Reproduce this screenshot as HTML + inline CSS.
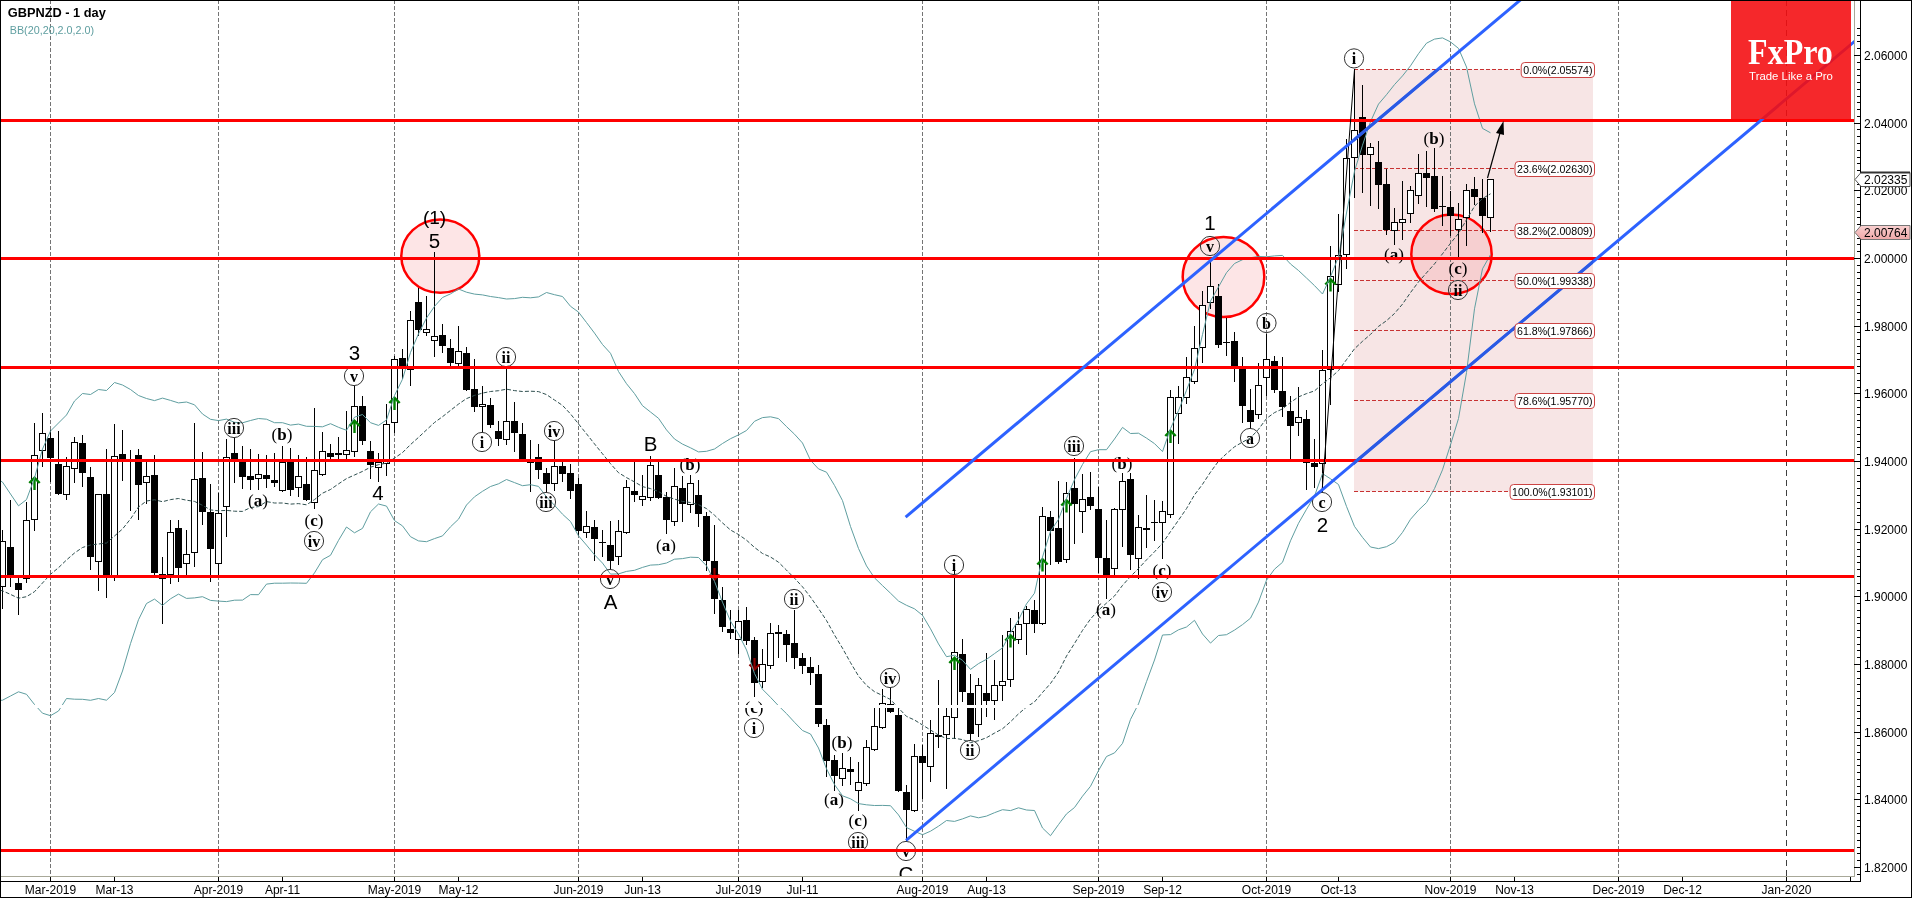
<!DOCTYPE html><html><head><meta charset="utf-8"><title>GBPNZD - 1 day</title><style>html,body{margin:0;padding:0;background:#fff;overflow:hidden}svg{will-change:transform}</style></head><body><svg width="1912" height="898" viewBox="0 0 1912 898" style="display:block">
<defs><clipPath id="plot"><rect x="1" y="1" width="1853" height="875"/></clipPath><clipPath id="box"><rect x="1354" y="0" width="239" height="898"/></clipPath><clipPath id="fibr"><rect x="1354" y="69.4" width="239" height="422.1"/></clipPath></defs>
<rect x="0" y="0" width="1912" height="898" fill="#fff"/>
<g clip-path="url(#plot)">
<rect x="1354" y="69.4" width="239" height="422.1" fill="#f7e5e5"/>
<ellipse cx="440.3" cy="256.1" rx="39" ry="36.7" fill="rgb(240,80,90)" fill-opacity="0.15" stroke="#ff0000" stroke-width="2.5"/>
<ellipse cx="1223.5" cy="277" rx="40.8" ry="40" fill="rgb(240,80,90)" fill-opacity="0.15" stroke="#ff0000" stroke-width="2.5"/>
<ellipse cx="1451.5" cy="254.2" rx="40.2" ry="39.8" fill="rgb(240,80,90)" fill-opacity="0.15" stroke="#ff0000" stroke-width="2.5"/>
<line x1="50.5" y1="0" x2="50.5" y2="876" stroke="#747474" stroke-width="1" stroke-dasharray="4 2"/>
<line x1="218.5" y1="0" x2="218.5" y2="876" stroke="#747474" stroke-width="1" stroke-dasharray="4 2"/>
<line x1="394.5" y1="0" x2="394.5" y2="876" stroke="#747474" stroke-width="1" stroke-dasharray="4 2"/>
<line x1="578.5" y1="0" x2="578.5" y2="876" stroke="#747474" stroke-width="1" stroke-dasharray="4 2"/>
<line x1="738.5" y1="0" x2="738.5" y2="876" stroke="#747474" stroke-width="1" stroke-dasharray="4 2"/>
<line x1="922.5" y1="0" x2="922.5" y2="876" stroke="#747474" stroke-width="1" stroke-dasharray="4 2"/>
<line x1="1098.5" y1="0" x2="1098.5" y2="876" stroke="#747474" stroke-width="1" stroke-dasharray="4 2"/>
<line x1="1266.5" y1="0" x2="1266.5" y2="876" stroke="#747474" stroke-width="1" stroke-dasharray="4 2"/>
<line x1="1450.5" y1="0" x2="1450.5" y2="876" stroke="#747474" stroke-width="1" stroke-dasharray="4 2"/>
<line x1="1618.5" y1="0" x2="1618.5" y2="876" stroke="#747474" stroke-width="1" stroke-dasharray="4 2"/>
<line x1="1786.5" y1="0" x2="1786.5" y2="876" stroke="#404040" stroke-width="1" stroke-dasharray="6 4"/>
<line x1="1354" y1="69.5" x2="1593" y2="69.5" stroke="#c83232" stroke-width="1" stroke-dasharray="4 2"/>
<line x1="1354" y1="168.5" x2="1593" y2="168.5" stroke="#c83232" stroke-width="1" stroke-dasharray="4 2"/>
<line x1="1354" y1="230.5" x2="1593" y2="230.5" stroke="#c83232" stroke-width="1" stroke-dasharray="4 2"/>
<line x1="1354" y1="280.5" x2="1593" y2="280.5" stroke="#c83232" stroke-width="1" stroke-dasharray="4 2"/>
<line x1="1354" y1="330.5" x2="1593" y2="330.5" stroke="#c83232" stroke-width="1" stroke-dasharray="4 2"/>
<line x1="1354" y1="400.5" x2="1593" y2="400.5" stroke="#c83232" stroke-width="1" stroke-dasharray="4 2"/>
<line x1="1354" y1="491.5" x2="1593" y2="491.5" stroke="#c83232" stroke-width="1" stroke-dasharray="4 2"/>
<g shape-rendering="crispEdges"><line x1="2.5" y1="530" x2="2.5" y2="609" stroke="#000" stroke-width="1"/><rect x="-0.5" y="541.5" width="6" height="45" fill="#fff" stroke="#000" stroke-width="1"/><line x1="10.5" y1="500" x2="10.5" y2="587" stroke="#000" stroke-width="1"/><rect x="7" y="547" width="7" height="28" fill="#000"/><line x1="18.5" y1="578" x2="18.5" y2="615" stroke="#000" stroke-width="1"/><rect x="15" y="583" width="7" height="7" fill="#000"/><line x1="26.5" y1="502" x2="26.5" y2="583" stroke="#000" stroke-width="1"/><rect x="23.5" y="520.5" width="6" height="58" fill="#fff" stroke="#000" stroke-width="1"/><line x1="34.5" y1="423" x2="34.5" y2="531" stroke="#000" stroke-width="1"/><rect x="31.5" y="455.5" width="6" height="64" fill="#fff" stroke="#000" stroke-width="1"/><line x1="42.5" y1="413" x2="42.5" y2="467" stroke="#000" stroke-width="1"/><rect x="39.5" y="433.5" width="6" height="17" fill="#fff" stroke="#000" stroke-width="1"/><line x1="50.5" y1="430" x2="50.5" y2="482" stroke="#000" stroke-width="1"/><rect x="47" y="438" width="7" height="20" fill="#000"/><line x1="58.5" y1="431" x2="58.5" y2="495" stroke="#000" stroke-width="1"/><rect x="55" y="464" width="7" height="30" fill="#000"/><line x1="66.5" y1="457" x2="66.5" y2="500" stroke="#000" stroke-width="1"/><rect x="63.5" y="466.5" width="6" height="28" fill="#fff" stroke="#000" stroke-width="1"/><line x1="74.5" y1="437" x2="74.5" y2="483" stroke="#000" stroke-width="1"/><rect x="71.5" y="442.5" width="6" height="26" fill="#fff" stroke="#000" stroke-width="1"/><line x1="82.5" y1="435" x2="82.5" y2="487" stroke="#000" stroke-width="1"/><rect x="79" y="443" width="7" height="30" fill="#000"/><line x1="90.5" y1="467" x2="90.5" y2="570" stroke="#000" stroke-width="1"/><rect x="87" y="477" width="7" height="80" fill="#000"/><line x1="98.5" y1="494" x2="98.5" y2="591" stroke="#000" stroke-width="1"/><rect x="95.5" y="494.5" width="6" height="67" fill="#fff" stroke="#000" stroke-width="1"/><line x1="106.5" y1="449" x2="106.5" y2="598" stroke="#000" stroke-width="1"/><rect x="103" y="494" width="7" height="84" fill="#000"/><line x1="114.5" y1="424" x2="114.5" y2="581" stroke="#000" stroke-width="1"/><rect x="111.5" y="456.5" width="6" height="120" fill="#fff" stroke="#000" stroke-width="1"/><line x1="122.5" y1="430" x2="122.5" y2="481" stroke="#000" stroke-width="1"/><rect x="119" y="454" width="7" height="8" fill="#000"/><line x1="130.5" y1="450" x2="130.5" y2="511" stroke="#000" stroke-width="1"/><line x1="138.5" y1="449" x2="138.5" y2="520" stroke="#000" stroke-width="1"/><rect x="135" y="455" width="7" height="30" fill="#000"/><line x1="146.5" y1="462" x2="146.5" y2="504" stroke="#000" stroke-width="1"/><rect x="143.5" y="476.5" width="6" height="6" fill="#fff" stroke="#000" stroke-width="1"/><line x1="154.5" y1="455" x2="154.5" y2="576" stroke="#000" stroke-width="1"/><rect x="151" y="475" width="7" height="98" fill="#000"/><line x1="162.5" y1="557" x2="162.5" y2="624" stroke="#000" stroke-width="1"/><rect x="159" y="574" width="7" height="5" fill="#000"/><line x1="170.5" y1="520" x2="170.5" y2="584" stroke="#000" stroke-width="1"/><rect x="167.5" y="532.5" width="6" height="42" fill="#fff" stroke="#000" stroke-width="1"/><line x1="178.5" y1="520" x2="178.5" y2="582" stroke="#000" stroke-width="1"/><rect x="175" y="528" width="7" height="40" fill="#000"/><line x1="186.5" y1="530" x2="186.5" y2="576" stroke="#000" stroke-width="1"/><rect x="183.5" y="554.5" width="6" height="9" fill="#fff" stroke="#000" stroke-width="1"/><line x1="194.5" y1="423" x2="194.5" y2="567" stroke="#000" stroke-width="1"/><rect x="191.5" y="479.5" width="6" height="73" fill="#fff" stroke="#000" stroke-width="1"/><line x1="202.5" y1="452" x2="202.5" y2="525" stroke="#000" stroke-width="1"/><rect x="199" y="478" width="7" height="34" fill="#000"/><line x1="210.5" y1="484" x2="210.5" y2="582" stroke="#000" stroke-width="1"/><rect x="207" y="512" width="7" height="37" fill="#000"/><line x1="218.5" y1="493" x2="218.5" y2="577" stroke="#000" stroke-width="1"/><rect x="215.5" y="513.5" width="6" height="50" fill="#fff" stroke="#000" stroke-width="1"/><line x1="226.5" y1="439" x2="226.5" y2="537" stroke="#000" stroke-width="1"/><rect x="223.5" y="457.5" width="6" height="49" fill="#fff" stroke="#000" stroke-width="1"/><line x1="234.5" y1="437" x2="234.5" y2="483" stroke="#000" stroke-width="1"/><rect x="231" y="453" width="7" height="6" fill="#000"/><line x1="242.5" y1="446" x2="242.5" y2="489" stroke="#000" stroke-width="1"/><rect x="239" y="462" width="7" height="15" fill="#000"/><line x1="250.5" y1="449" x2="250.5" y2="490" stroke="#000" stroke-width="1"/><rect x="247" y="476" width="7" height="4" fill="#000"/><line x1="258.5" y1="454" x2="258.5" y2="490" stroke="#000" stroke-width="1"/><rect x="255.5" y="474.5" width="6" height="4" fill="#fff" stroke="#000" stroke-width="1"/><line x1="266.5" y1="455" x2="266.5" y2="488" stroke="#000" stroke-width="1"/><rect x="263" y="475" width="7" height="4" fill="#000"/><line x1="274.5" y1="453" x2="274.5" y2="487" stroke="#000" stroke-width="1"/><rect x="271" y="480" width="7" height="3" fill="#000"/><line x1="282.5" y1="446" x2="282.5" y2="492" stroke="#000" stroke-width="1"/><rect x="279.5" y="462.5" width="6" height="28" fill="#fff" stroke="#000" stroke-width="1"/><line x1="290.5" y1="448" x2="290.5" y2="496" stroke="#000" stroke-width="1"/><rect x="287" y="462" width="7" height="28" fill="#000"/><line x1="298.5" y1="455" x2="298.5" y2="497" stroke="#000" stroke-width="1"/><rect x="295.5" y="476.5" width="6" height="11" fill="#fff" stroke="#000" stroke-width="1"/><line x1="306.5" y1="457" x2="306.5" y2="501" stroke="#000" stroke-width="1"/><rect x="303" y="484" width="7" height="16" fill="#000"/><line x1="314.5" y1="408" x2="314.5" y2="509" stroke="#000" stroke-width="1"/><rect x="311.5" y="470.5" width="6" height="32" fill="#fff" stroke="#000" stroke-width="1"/><line x1="322.5" y1="432" x2="322.5" y2="476" stroke="#000" stroke-width="1"/><rect x="319.5" y="451.5" width="6" height="23" fill="#fff" stroke="#000" stroke-width="1"/><line x1="330.5" y1="444" x2="330.5" y2="460" stroke="#000" stroke-width="1"/><rect x="327" y="453" width="7" height="4" fill="#000"/><line x1="338.5" y1="437" x2="338.5" y2="460" stroke="#000" stroke-width="1"/><rect x="335" y="453" width="7" height="2" fill="#000"/><line x1="346.5" y1="411" x2="346.5" y2="460" stroke="#000" stroke-width="1"/><rect x="343.5" y="450.5" width="6" height="4" fill="#fff" stroke="#000" stroke-width="1"/><line x1="354.5" y1="386" x2="354.5" y2="457" stroke="#000" stroke-width="1"/><rect x="351.5" y="406.5" width="6" height="45" fill="#fff" stroke="#000" stroke-width="1"/><line x1="362.5" y1="396" x2="362.5" y2="445" stroke="#000" stroke-width="1"/><rect x="359" y="406" width="7" height="35" fill="#000"/><line x1="370.5" y1="441" x2="370.5" y2="479" stroke="#000" stroke-width="1"/><rect x="367" y="451" width="7" height="14" fill="#000"/><line x1="378.5" y1="453" x2="378.5" y2="482" stroke="#000" stroke-width="1"/><rect x="375.5" y="462.5" width="6" height="5" fill="#fff" stroke="#000" stroke-width="1"/><line x1="386.5" y1="404" x2="386.5" y2="476" stroke="#000" stroke-width="1"/><rect x="383.5" y="424.5" width="6" height="39" fill="#fff" stroke="#000" stroke-width="1"/><line x1="394.5" y1="356" x2="394.5" y2="433" stroke="#000" stroke-width="1"/><rect x="391.5" y="359.5" width="6" height="63" fill="#fff" stroke="#000" stroke-width="1"/><line x1="402.5" y1="349" x2="402.5" y2="379" stroke="#000" stroke-width="1"/><rect x="399" y="358" width="7" height="9" fill="#000"/><line x1="410.5" y1="311" x2="410.5" y2="386" stroke="#000" stroke-width="1"/><rect x="407.5" y="320.5" width="6" height="49" fill="#fff" stroke="#000" stroke-width="1"/><line x1="418.5" y1="288" x2="418.5" y2="336" stroke="#000" stroke-width="1"/><rect x="415" y="302" width="7" height="28" fill="#000"/><line x1="426.5" y1="296" x2="426.5" y2="336" stroke="#000" stroke-width="1"/><rect x="423.5" y="329.5" width="6" height="3" fill="#fff" stroke="#000" stroke-width="1"/><line x1="434.5" y1="252" x2="434.5" y2="357" stroke="#000" stroke-width="1"/><rect x="431.5" y="336.5" width="6" height="4" fill="#fff" stroke="#000" stroke-width="1"/><line x1="442.5" y1="324" x2="442.5" y2="353" stroke="#000" stroke-width="1"/><rect x="439" y="335" width="7" height="11" fill="#000"/><line x1="450.5" y1="339" x2="450.5" y2="367" stroke="#000" stroke-width="1"/><rect x="447" y="348" width="7" height="15" fill="#000"/><line x1="458.5" y1="326" x2="458.5" y2="367" stroke="#000" stroke-width="1"/><rect x="455.5" y="351.5" width="6" height="12" fill="#fff" stroke="#000" stroke-width="1"/><line x1="466.5" y1="347" x2="466.5" y2="391" stroke="#000" stroke-width="1"/><rect x="463" y="353" width="7" height="37" fill="#000"/><line x1="474.5" y1="359" x2="474.5" y2="412" stroke="#000" stroke-width="1"/><rect x="471" y="389" width="7" height="18" fill="#000"/><line x1="482.5" y1="386" x2="482.5" y2="433" stroke="#000" stroke-width="1"/><rect x="479.5" y="404.5" width="6" height="2" fill="#fff" stroke="#000" stroke-width="1"/><line x1="490.5" y1="398" x2="490.5" y2="428" stroke="#000" stroke-width="1"/><rect x="487" y="405" width="7" height="20" fill="#000"/><line x1="498.5" y1="421" x2="498.5" y2="446" stroke="#000" stroke-width="1"/><rect x="495" y="431" width="7" height="8" fill="#000"/><line x1="506.5" y1="368" x2="506.5" y2="445" stroke="#000" stroke-width="1"/><rect x="503.5" y="421.5" width="6" height="18" fill="#fff" stroke="#000" stroke-width="1"/><line x1="514.5" y1="402" x2="514.5" y2="452" stroke="#000" stroke-width="1"/><rect x="511" y="421" width="7" height="12" fill="#000"/><line x1="522.5" y1="423" x2="522.5" y2="460" stroke="#000" stroke-width="1"/><rect x="519" y="434" width="7" height="25" fill="#000"/><line x1="530.5" y1="440" x2="530.5" y2="492" stroke="#000" stroke-width="1"/><rect x="527.5" y="460.5" width="6" height="2" fill="#fff" stroke="#000" stroke-width="1"/><line x1="538.5" y1="444" x2="538.5" y2="479" stroke="#000" stroke-width="1"/><rect x="535" y="457" width="7" height="13" fill="#000"/><line x1="546.5" y1="468" x2="546.5" y2="492" stroke="#000" stroke-width="1"/><rect x="543" y="473" width="7" height="11" fill="#000"/><line x1="554.5" y1="441" x2="554.5" y2="491" stroke="#000" stroke-width="1"/><rect x="551.5" y="466.5" width="6" height="17" fill="#fff" stroke="#000" stroke-width="1"/><line x1="562.5" y1="462" x2="562.5" y2="482" stroke="#000" stroke-width="1"/><rect x="559" y="466" width="7" height="8" fill="#000"/><line x1="570.5" y1="464" x2="570.5" y2="499" stroke="#000" stroke-width="1"/><rect x="567" y="473" width="7" height="18" fill="#000"/><line x1="578.5" y1="478" x2="578.5" y2="536" stroke="#000" stroke-width="1"/><rect x="575" y="484" width="7" height="47" fill="#000"/><line x1="586.5" y1="511" x2="586.5" y2="538" stroke="#000" stroke-width="1"/><rect x="583.5" y="526.5" width="6" height="6" fill="#fff" stroke="#000" stroke-width="1"/><line x1="594.5" y1="520" x2="594.5" y2="561" stroke="#000" stroke-width="1"/><rect x="591" y="527" width="7" height="12" fill="#000"/><line x1="602.5" y1="530" x2="602.5" y2="557" stroke="#000" stroke-width="1"/><rect x="599" y="542" width="7" height="1" fill="#000"/><line x1="610.5" y1="521" x2="610.5" y2="569" stroke="#000" stroke-width="1"/><rect x="607" y="545" width="7" height="16" fill="#000"/><line x1="618.5" y1="520" x2="618.5" y2="565" stroke="#000" stroke-width="1"/><rect x="615.5" y="531.5" width="6" height="25" fill="#fff" stroke="#000" stroke-width="1"/><line x1="626.5" y1="480" x2="626.5" y2="534" stroke="#000" stroke-width="1"/><rect x="623.5" y="487.5" width="6" height="45" fill="#fff" stroke="#000" stroke-width="1"/><line x1="634.5" y1="462" x2="634.5" y2="502" stroke="#000" stroke-width="1"/><rect x="631" y="491" width="7" height="4" fill="#000"/><line x1="642.5" y1="475" x2="642.5" y2="506" stroke="#000" stroke-width="1"/><rect x="639.5" y="496.5" width="6" height="3" fill="#fff" stroke="#000" stroke-width="1"/><line x1="650.5" y1="456" x2="650.5" y2="501" stroke="#000" stroke-width="1"/><rect x="647.5" y="465.5" width="6" height="32" fill="#fff" stroke="#000" stroke-width="1"/><line x1="658.5" y1="462" x2="658.5" y2="499" stroke="#000" stroke-width="1"/><rect x="655" y="475" width="7" height="23" fill="#000"/><line x1="666.5" y1="492" x2="666.5" y2="534" stroke="#000" stroke-width="1"/><rect x="663" y="497" width="7" height="23" fill="#000"/><line x1="674.5" y1="468" x2="674.5" y2="526" stroke="#000" stroke-width="1"/><rect x="671.5" y="486.5" width="6" height="35" fill="#fff" stroke="#000" stroke-width="1"/><line x1="682.5" y1="476" x2="682.5" y2="522" stroke="#000" stroke-width="1"/><rect x="679" y="488" width="7" height="16" fill="#000"/><line x1="690.5" y1="475" x2="690.5" y2="513" stroke="#000" stroke-width="1"/><rect x="687.5" y="483.5" width="6" height="21" fill="#fff" stroke="#000" stroke-width="1"/><line x1="698.5" y1="480" x2="698.5" y2="527" stroke="#000" stroke-width="1"/><rect x="695" y="495" width="7" height="19" fill="#000"/><line x1="706.5" y1="512" x2="706.5" y2="571" stroke="#000" stroke-width="1"/><rect x="703" y="516" width="7" height="45" fill="#000"/><line x1="714.5" y1="525" x2="714.5" y2="614" stroke="#000" stroke-width="1"/><rect x="711" y="561" width="7" height="38" fill="#000"/><line x1="722.5" y1="587" x2="722.5" y2="632" stroke="#000" stroke-width="1"/><rect x="719" y="600" width="7" height="27" fill="#000"/><line x1="730.5" y1="610" x2="730.5" y2="639" stroke="#000" stroke-width="1"/><rect x="727" y="629" width="7" height="4" fill="#000"/><line x1="738.5" y1="610" x2="738.5" y2="654" stroke="#000" stroke-width="1"/><rect x="735.5" y="621.5" width="6" height="18" fill="#fff" stroke="#000" stroke-width="1"/><line x1="746.5" y1="607" x2="746.5" y2="645" stroke="#000" stroke-width="1"/><rect x="743" y="620" width="7" height="21" fill="#000"/><line x1="754.5" y1="637" x2="754.5" y2="697" stroke="#000" stroke-width="1"/><rect x="751" y="640" width="7" height="43" fill="#000"/><line x1="762.5" y1="649" x2="762.5" y2="688" stroke="#000" stroke-width="1"/><rect x="759.5" y="664.5" width="6" height="17" fill="#fff" stroke="#000" stroke-width="1"/><line x1="770.5" y1="623" x2="770.5" y2="669" stroke="#000" stroke-width="1"/><rect x="767.5" y="633.5" width="6" height="32" fill="#fff" stroke="#000" stroke-width="1"/><line x1="778.5" y1="625" x2="778.5" y2="658" stroke="#000" stroke-width="1"/><rect x="775" y="632" width="7" height="2" fill="#000"/><line x1="786.5" y1="630" x2="786.5" y2="662" stroke="#000" stroke-width="1"/><rect x="783" y="634" width="7" height="11" fill="#000"/><line x1="794.5" y1="610" x2="794.5" y2="669" stroke="#000" stroke-width="1"/><rect x="791" y="643" width="7" height="15" fill="#000"/><line x1="802.5" y1="653" x2="802.5" y2="674" stroke="#000" stroke-width="1"/><rect x="799" y="658" width="7" height="8" fill="#000"/><line x1="810.5" y1="657" x2="810.5" y2="685" stroke="#000" stroke-width="1"/><rect x="807" y="667" width="7" height="6" fill="#000"/><line x1="818.5" y1="665" x2="818.5" y2="727" stroke="#000" stroke-width="1"/><rect x="815" y="674" width="7" height="50" fill="#000"/><line x1="826.5" y1="719" x2="826.5" y2="777" stroke="#000" stroke-width="1"/><rect x="823" y="725" width="7" height="36" fill="#000"/><line x1="834.5" y1="755" x2="834.5" y2="791" stroke="#000" stroke-width="1"/><rect x="831" y="760" width="7" height="16" fill="#000"/><line x1="842.5" y1="753" x2="842.5" y2="786" stroke="#000" stroke-width="1"/><rect x="839.5" y="768.5" width="6" height="10" fill="#fff" stroke="#000" stroke-width="1"/><line x1="850.5" y1="757" x2="850.5" y2="785" stroke="#000" stroke-width="1"/><rect x="847" y="769" width="7" height="3" fill="#000"/><line x1="858.5" y1="762" x2="858.5" y2="811" stroke="#000" stroke-width="1"/><rect x="855.5" y="782.5" width="6" height="8" fill="#fff" stroke="#000" stroke-width="1"/><line x1="866.5" y1="740" x2="866.5" y2="786" stroke="#000" stroke-width="1"/><rect x="863.5" y="747.5" width="6" height="36" fill="#fff" stroke="#000" stroke-width="1"/><line x1="874.5" y1="708" x2="874.5" y2="751" stroke="#000" stroke-width="1"/><rect x="871.5" y="726.5" width="6" height="23" fill="#fff" stroke="#000" stroke-width="1"/><line x1="882.5" y1="689" x2="882.5" y2="729" stroke="#000" stroke-width="1"/><rect x="879.5" y="703.5" width="6" height="24" fill="#fff" stroke="#000" stroke-width="1"/><line x1="890.5" y1="688" x2="890.5" y2="713" stroke="#000" stroke-width="1"/><rect x="887" y="704" width="7" height="8" fill="#000"/><line x1="898.5" y1="708" x2="898.5" y2="792" stroke="#000" stroke-width="1"/><rect x="895" y="715" width="7" height="76" fill="#000"/><line x1="906.5" y1="785" x2="906.5" y2="841" stroke="#000" stroke-width="1"/><rect x="903" y="792" width="7" height="18" fill="#000"/><line x1="914.5" y1="744" x2="914.5" y2="812" stroke="#000" stroke-width="1"/><rect x="911.5" y="756.5" width="6" height="54" fill="#fff" stroke="#000" stroke-width="1"/><line x1="922.5" y1="745" x2="922.5" y2="799" stroke="#000" stroke-width="1"/><rect x="919" y="756" width="7" height="7" fill="#000"/><line x1="930.5" y1="720" x2="930.5" y2="782" stroke="#000" stroke-width="1"/><rect x="927.5" y="733.5" width="6" height="33" fill="#fff" stroke="#000" stroke-width="1"/><line x1="938.5" y1="680" x2="938.5" y2="748" stroke="#000" stroke-width="1"/><rect x="935.5" y="735.5" width="6" height="1" fill="#fff" stroke="#000" stroke-width="1"/><line x1="946.5" y1="708" x2="946.5" y2="789" stroke="#000" stroke-width="1"/><rect x="943.5" y="716.5" width="6" height="18" fill="#fff" stroke="#000" stroke-width="1"/><line x1="954.5" y1="565" x2="954.5" y2="739" stroke="#000" stroke-width="1"/><rect x="951.5" y="652.5" width="6" height="65" fill="#fff" stroke="#000" stroke-width="1"/><line x1="962.5" y1="639" x2="962.5" y2="702" stroke="#000" stroke-width="1"/><rect x="959" y="654" width="7" height="38" fill="#000"/><line x1="970.5" y1="674" x2="970.5" y2="740" stroke="#000" stroke-width="1"/><rect x="967" y="693" width="7" height="41" fill="#000"/><line x1="978.5" y1="678" x2="978.5" y2="737" stroke="#000" stroke-width="1"/><rect x="975.5" y="685.5" width="6" height="39" fill="#fff" stroke="#000" stroke-width="1"/><line x1="986.5" y1="653" x2="986.5" y2="717" stroke="#000" stroke-width="1"/><rect x="983" y="693" width="7" height="8" fill="#000"/><line x1="994.5" y1="660" x2="994.5" y2="720" stroke="#000" stroke-width="1"/><rect x="991.5" y="685.5" width="6" height="15" fill="#fff" stroke="#000" stroke-width="1"/><line x1="1002.5" y1="635" x2="1002.5" y2="701" stroke="#000" stroke-width="1"/><rect x="999.5" y="681.5" width="6" height="4" fill="#fff" stroke="#000" stroke-width="1"/><line x1="1010.5" y1="618" x2="1010.5" y2="687" stroke="#000" stroke-width="1"/><rect x="1007.5" y="631.5" width="6" height="48" fill="#fff" stroke="#000" stroke-width="1"/><line x1="1018.5" y1="612" x2="1018.5" y2="644" stroke="#000" stroke-width="1"/><rect x="1015.5" y="624.5" width="6" height="15" fill="#fff" stroke="#000" stroke-width="1"/><line x1="1026.5" y1="606" x2="1026.5" y2="655" stroke="#000" stroke-width="1"/><rect x="1023.5" y="609.5" width="6" height="14" fill="#fff" stroke="#000" stroke-width="1"/><line x1="1034.5" y1="600" x2="1034.5" y2="633" stroke="#000" stroke-width="1"/><rect x="1031" y="610" width="7" height="14" fill="#000"/><line x1="1042.5" y1="507" x2="1042.5" y2="625" stroke="#000" stroke-width="1"/><rect x="1039.5" y="516.5" width="6" height="107" fill="#fff" stroke="#000" stroke-width="1"/><line x1="1050.5" y1="511" x2="1050.5" y2="565" stroke="#000" stroke-width="1"/><rect x="1047" y="517" width="7" height="14" fill="#000"/><line x1="1058.5" y1="481" x2="1058.5" y2="564" stroke="#000" stroke-width="1"/><rect x="1055" y="528" width="7" height="34" fill="#000"/><line x1="1066.5" y1="482" x2="1066.5" y2="563" stroke="#000" stroke-width="1"/><rect x="1063.5" y="493.5" width="6" height="66" fill="#fff" stroke="#000" stroke-width="1"/><line x1="1074.5" y1="458" x2="1074.5" y2="544" stroke="#000" stroke-width="1"/><rect x="1071" y="488" width="7" height="16" fill="#000"/><line x1="1082.5" y1="474" x2="1082.5" y2="533" stroke="#000" stroke-width="1"/><rect x="1079.5" y="499.5" width="6" height="12" fill="#fff" stroke="#000" stroke-width="1"/><line x1="1090.5" y1="472" x2="1090.5" y2="510" stroke="#000" stroke-width="1"/><rect x="1087" y="497" width="7" height="9" fill="#000"/><line x1="1098.5" y1="487" x2="1098.5" y2="573" stroke="#000" stroke-width="1"/><rect x="1095" y="509" width="7" height="49" fill="#000"/><line x1="1106.5" y1="520" x2="1106.5" y2="599" stroke="#000" stroke-width="1"/><rect x="1103" y="558" width="7" height="17" fill="#000"/><line x1="1114.5" y1="508" x2="1114.5" y2="576" stroke="#000" stroke-width="1"/><rect x="1111.5" y="509.5" width="6" height="59" fill="#fff" stroke="#000" stroke-width="1"/><line x1="1122.5" y1="473" x2="1122.5" y2="547" stroke="#000" stroke-width="1"/><rect x="1119.5" y="481.5" width="6" height="28" fill="#fff" stroke="#000" stroke-width="1"/><line x1="1130.5" y1="473" x2="1130.5" y2="570" stroke="#000" stroke-width="1"/><rect x="1127" y="479" width="7" height="76" fill="#000"/><line x1="1138.5" y1="515" x2="1138.5" y2="579" stroke="#000" stroke-width="1"/><rect x="1135.5" y="527.5" width="6" height="31" fill="#fff" stroke="#000" stroke-width="1"/><line x1="1146.5" y1="495" x2="1146.5" y2="548" stroke="#000" stroke-width="1"/><rect x="1143.5" y="528.5" width="6" height="1" fill="#fff" stroke="#000" stroke-width="1"/><line x1="1154.5" y1="500" x2="1154.5" y2="541" stroke="#000" stroke-width="1"/><rect x="1151" y="522" width="7" height="1" fill="#000"/><line x1="1162.5" y1="501" x2="1162.5" y2="559" stroke="#000" stroke-width="1"/><rect x="1159.5" y="511.5" width="6" height="11" fill="#fff" stroke="#000" stroke-width="1"/><line x1="1170.5" y1="390" x2="1170.5" y2="518" stroke="#000" stroke-width="1"/><rect x="1167.5" y="397.5" width="6" height="117" fill="#fff" stroke="#000" stroke-width="1"/><line x1="1178.5" y1="386" x2="1178.5" y2="444" stroke="#000" stroke-width="1"/><rect x="1175.5" y="397.5" width="6" height="16" fill="#fff" stroke="#000" stroke-width="1"/><line x1="1186.5" y1="357" x2="1186.5" y2="404" stroke="#000" stroke-width="1"/><rect x="1183.5" y="377.5" width="6" height="20" fill="#fff" stroke="#000" stroke-width="1"/><line x1="1194.5" y1="326" x2="1194.5" y2="384" stroke="#000" stroke-width="1"/><rect x="1191.5" y="348.5" width="6" height="33" fill="#fff" stroke="#000" stroke-width="1"/><line x1="1202.5" y1="291" x2="1202.5" y2="363" stroke="#000" stroke-width="1"/><rect x="1199.5" y="305.5" width="6" height="42" fill="#fff" stroke="#000" stroke-width="1"/><line x1="1210.5" y1="259" x2="1210.5" y2="309" stroke="#000" stroke-width="1"/><rect x="1207.5" y="286.5" width="6" height="16" fill="#fff" stroke="#000" stroke-width="1"/><line x1="1218.5" y1="284" x2="1218.5" y2="348" stroke="#000" stroke-width="1"/><rect x="1215" y="296" width="7" height="49" fill="#000"/><line x1="1226.5" y1="318" x2="1226.5" y2="356" stroke="#000" stroke-width="1"/><rect x="1223" y="342" width="7" height="1" fill="#000"/><line x1="1234.5" y1="332" x2="1234.5" y2="382" stroke="#000" stroke-width="1"/><rect x="1231" y="341" width="7" height="25" fill="#000"/><line x1="1242.5" y1="357" x2="1242.5" y2="423" stroke="#000" stroke-width="1"/><rect x="1239" y="366" width="7" height="40" fill="#000"/><line x1="1250.5" y1="389" x2="1250.5" y2="429" stroke="#000" stroke-width="1"/><rect x="1247" y="410" width="7" height="12" fill="#000"/><line x1="1258.5" y1="363" x2="1258.5" y2="419" stroke="#000" stroke-width="1"/><rect x="1255.5" y="385.5" width="6" height="29" fill="#fff" stroke="#000" stroke-width="1"/><line x1="1266.5" y1="334" x2="1266.5" y2="396" stroke="#000" stroke-width="1"/><rect x="1263.5" y="359.5" width="6" height="18" fill="#fff" stroke="#000" stroke-width="1"/><line x1="1274.5" y1="356" x2="1274.5" y2="393" stroke="#000" stroke-width="1"/><rect x="1271" y="361" width="7" height="29" fill="#000"/><line x1="1282.5" y1="357" x2="1282.5" y2="417" stroke="#000" stroke-width="1"/><rect x="1279" y="391" width="7" height="16" fill="#000"/><line x1="1290.5" y1="396" x2="1290.5" y2="460" stroke="#000" stroke-width="1"/><rect x="1287" y="411" width="7" height="15" fill="#000"/><line x1="1298.5" y1="387" x2="1298.5" y2="436" stroke="#000" stroke-width="1"/><rect x="1295.5" y="417.5" width="6" height="5" fill="#fff" stroke="#000" stroke-width="1"/><line x1="1306.5" y1="410" x2="1306.5" y2="490" stroke="#000" stroke-width="1"/><rect x="1303" y="419" width="7" height="44" fill="#000"/><line x1="1314.5" y1="439" x2="1314.5" y2="488" stroke="#000" stroke-width="1"/><rect x="1311" y="463" width="7" height="4" fill="#000"/><line x1="1322.5" y1="350" x2="1322.5" y2="492" stroke="#000" stroke-width="1"/><rect x="1319.5" y="370.5" width="6" height="93" fill="#fff" stroke="#000" stroke-width="1"/><line x1="1330.5" y1="246" x2="1330.5" y2="405" stroke="#000" stroke-width="1"/><rect x="1327.5" y="276.5" width="6" height="93" fill="#fff" stroke="#000" stroke-width="1"/><line x1="1338.5" y1="214" x2="1338.5" y2="292" stroke="#000" stroke-width="1"/><rect x="1335.5" y="255.5" width="6" height="29" fill="#fff" stroke="#000" stroke-width="1"/><line x1="1346.5" y1="139" x2="1346.5" y2="269" stroke="#000" stroke-width="1"/><rect x="1343.5" y="158.5" width="6" height="96" fill="#fff" stroke="#000" stroke-width="1"/><line x1="1354.5" y1="69" x2="1354.5" y2="198" stroke="#000" stroke-width="1"/><rect x="1351.5" y="130.5" width="6" height="27" fill="#fff" stroke="#000" stroke-width="1"/><line x1="1362.5" y1="85" x2="1362.5" y2="193" stroke="#000" stroke-width="1"/><rect x="1359" y="117" width="7" height="38" fill="#000"/><line x1="1370.5" y1="143" x2="1370.5" y2="206" stroke="#000" stroke-width="1"/><rect x="1367.5" y="147.5" width="6" height="7" fill="#fff" stroke="#000" stroke-width="1"/><line x1="1378.5" y1="141" x2="1378.5" y2="209" stroke="#000" stroke-width="1"/><rect x="1375" y="162" width="7" height="23" fill="#000"/><line x1="1386.5" y1="169" x2="1386.5" y2="235" stroke="#000" stroke-width="1"/><rect x="1383" y="184" width="7" height="46" fill="#000"/><line x1="1394.5" y1="208" x2="1394.5" y2="245" stroke="#000" stroke-width="1"/><rect x="1391.5" y="222.5" width="6" height="8" fill="#fff" stroke="#000" stroke-width="1"/><line x1="1402.5" y1="181" x2="1402.5" y2="240" stroke="#000" stroke-width="1"/><rect x="1399.5" y="219.5" width="6" height="3" fill="#fff" stroke="#000" stroke-width="1"/><line x1="1410.5" y1="186" x2="1410.5" y2="223" stroke="#000" stroke-width="1"/><rect x="1407.5" y="190.5" width="6" height="23" fill="#fff" stroke="#000" stroke-width="1"/><line x1="1418.5" y1="154" x2="1418.5" y2="204" stroke="#000" stroke-width="1"/><rect x="1415.5" y="173.5" width="6" height="22" fill="#fff" stroke="#000" stroke-width="1"/><line x1="1426.5" y1="151" x2="1426.5" y2="207" stroke="#000" stroke-width="1"/><rect x="1423" y="173" width="7" height="5" fill="#000"/><line x1="1434.5" y1="148" x2="1434.5" y2="212" stroke="#000" stroke-width="1"/><rect x="1431" y="176" width="7" height="33" fill="#000"/><line x1="1442.5" y1="176" x2="1442.5" y2="226" stroke="#000" stroke-width="1"/><rect x="1439" y="206" width="7" height="1" fill="#000"/><line x1="1450.5" y1="191" x2="1450.5" y2="236" stroke="#000" stroke-width="1"/><rect x="1447" y="207" width="7" height="9" fill="#000"/><line x1="1458.5" y1="203" x2="1458.5" y2="258" stroke="#000" stroke-width="1"/><rect x="1455.5" y="219.5" width="6" height="10" fill="#fff" stroke="#000" stroke-width="1"/><line x1="1466.5" y1="184" x2="1466.5" y2="246" stroke="#000" stroke-width="1"/><rect x="1463.5" y="190.5" width="6" height="27" fill="#fff" stroke="#000" stroke-width="1"/><line x1="1474.5" y1="177" x2="1474.5" y2="205" stroke="#000" stroke-width="1"/><rect x="1471" y="189" width="7" height="8" fill="#000"/><line x1="1482.5" y1="179" x2="1482.5" y2="233" stroke="#000" stroke-width="1"/><rect x="1479" y="198" width="7" height="18" fill="#000"/><line x1="1490.5" y1="179" x2="1490.5" y2="232" stroke="#000" stroke-width="1"/><rect x="1487.5" y="179.5" width="6" height="38" fill="#fff" stroke="#000" stroke-width="1"/></g>
<g stroke="#008000" fill="none" stroke-width="2.4"><line x1="34.5" y1="478" x2="34.5" y2="490"/><polyline points="29.3,483 34.5,477.8 39.7,483"/></g>
<g stroke="#008000" fill="none" stroke-width="2.4"><line x1="354.5" y1="421" x2="354.5" y2="433"/><polyline points="349.3,426 354.5,420.8 359.7,426"/></g>
<g stroke="#008000" fill="none" stroke-width="2.4"><line x1="394.5" y1="398" x2="394.5" y2="410"/><polyline points="389.3,403 394.5,397.8 399.7,403"/></g>
<g stroke="#008000" fill="none" stroke-width="2.4"><line x1="954.5" y1="658" x2="954.5" y2="670"/><polyline points="949.3,663 954.5,657.8 959.7,663"/></g>
<g stroke="#008000" fill="none" stroke-width="2.4"><line x1="1010.5" y1="635.5" x2="1010.5" y2="647.5"/><polyline points="1005.3,640.5 1010.5,635.3 1015.7,640.5"/></g>
<g stroke="#008000" fill="none" stroke-width="2.4"><line x1="1042.5" y1="559.5" x2="1042.5" y2="571.5"/><polyline points="1037.3,564.5 1042.5,559.3 1047.7,564.5"/></g>
<g stroke="#008000" fill="none" stroke-width="2.4"><line x1="1066.5" y1="500.5" x2="1066.5" y2="512.5"/><polyline points="1061.3,505.5 1066.5,500.3 1071.7,505.5"/></g>
<g stroke="#008000" fill="none" stroke-width="2.4"><line x1="1170.5" y1="431" x2="1170.5" y2="443"/><polyline points="1165.3,436 1170.5,430.8 1175.7,436"/></g>
<g stroke="#008000" fill="none" stroke-width="2.4"><line x1="1330.5" y1="279.5" x2="1330.5" y2="291.5"/><polyline points="1325.3,284.5 1330.5,279.3 1335.7,284.5"/></g>
<g stroke="#8b0000" fill="none" stroke-width="2.2"><line x1="714.5" y1="568" x2="714.5" y2="579"/><polyline points="709.5,574.5 714.5,579.5 719.5,574.5"/></g>
<g stroke="#8b0000" fill="none" stroke-width="2.2"><line x1="754.5" y1="658" x2="754.5" y2="669"/><polyline points="749.5,664.5 754.5,669.5 759.5,664.5"/></g>
<polyline points="0.0,480.5 2.5,482.1 10.5,494.0 18.5,505.8 26.5,499.6 34.5,478.0 42.5,449.0 50.5,431.0 58.5,423.0 66.5,415.0 74.5,401.0 82.5,393.5 90.5,394.5 98.5,389.5 106.5,390.5 114.5,382.5 122.5,385.0 130.5,389.5 138.5,395.5 146.5,398.5 154.5,400.6 162.5,398.1 170.5,400.4 178.5,402.9 186.5,402.0 194.5,404.8 202.5,414.0 210.5,419.3 218.5,420.6 226.5,419.1 234.5,422.3 242.5,422.8 250.5,420.5 258.5,418.5 266.5,419.2 274.5,422.7 282.5,422.7 290.5,425.1 298.5,424.1 306.5,426.3 314.5,426.4 322.5,426.8 330.5,423.7 338.5,427.3 346.5,430.3 354.5,417.2 362.5,414.5 370.5,422.7 378.5,425.4 386.5,420.0 394.5,395.5 402.5,379.2 410.5,352.4 418.5,333.8 426.5,318.0 434.5,306.4 442.5,297.5 450.5,293.9 458.5,289.0 466.5,292.2 474.5,294.1 482.5,294.9 490.5,296.5 498.5,297.6 506.5,299.0 514.5,298.6 522.5,297.3 530.5,297.8 538.5,296.9 546.5,292.5 554.5,294.7 562.5,296.5 570.5,306.3 578.5,312.1 586.5,322.5 594.5,333.1 602.5,344.5 610.5,353.3 618.5,371.5 626.5,383.7 634.5,393.6 642.5,405.7 650.5,412.0 658.5,418.3 666.5,429.9 674.5,439.0 682.5,444.1 690.5,447.8 698.5,451.9 706.5,451.3 714.5,449.0 722.5,443.5 730.5,438.7 738.5,434.9 746.5,430.5 754.5,421.3 762.5,417.6 770.5,416.8 778.5,418.6 786.5,426.6 794.5,434.2 802.5,443.0 810.5,460.3 818.5,468.9 826.5,472.2 834.5,485.4 842.5,500.6 850.5,526.5 858.5,548.5 866.5,565.9 874.5,577.9 882.5,585.6 890.5,593.2 898.5,601.0 906.5,605.3 914.5,608.8 922.5,615.3 930.5,628.8 938.5,643.9 946.5,656.7 954.5,655.2 962.5,660.3 970.5,669.4 978.5,663.6 986.5,659.3 994.5,653.6 1002.5,647.9 1010.5,632.9 1018.5,619.9 1026.5,603.9 1034.5,593.2 1042.5,557.0 1050.5,531.2 1058.5,519.4 1066.5,498.4 1074.5,479.6 1082.5,464.5 1090.5,451.7 1098.5,449.7 1106.5,449.7 1114.5,439.0 1122.5,427.4 1130.5,433.5 1138.5,433.2 1146.5,438.1 1154.5,443.6 1162.5,451.6 1170.5,428.6 1178.5,410.7 1186.5,390.3 1194.5,369.4 1202.5,334.6 1210.5,301.0 1218.5,286.9 1226.5,272.7 1234.5,263.5 1242.5,259.7 1250.5,257.7 1258.5,256.5 1266.5,256.8 1274.5,255.9 1282.5,255.4 1290.5,264.0 1298.5,270.5 1306.5,278.0 1314.5,285.6 1322.5,294.0 1330.5,276.7 1338.5,256.8 1346.5,213.0 1354.5,171.2 1362.5,145.2 1370.5,121.7 1378.5,104.1 1386.5,94.7 1394.5,84.6 1402.5,75.9 1410.5,65.8 1418.5,53.7 1426.5,43.2 1434.5,39.1 1442.5,37.9 1450.5,41.9 1458.5,48.4 1466.5,67.0 1474.5,103.8 1482.5,128.4 1490.5,132.8" fill="none" stroke="#5f9ea0" stroke-width="1"/>
<polyline points="0.0,700.4 2.5,700.2 10.5,696.0 18.5,691.8 26.5,694.3 34.5,704.5 42.5,713.2 50.5,715.7 58.5,711.0 66.5,698.5 74.5,699.2 82.5,699.3 90.5,700.3 98.5,698.5 106.5,700.2 114.5,692.5 122.5,671.0 130.5,643.6 138.5,619.7 146.5,603.5 154.5,599.1 162.5,605.4 170.5,598.8 178.5,594.1 186.5,598.4 194.5,597.9 202.5,596.7 210.5,600.4 218.5,601.1 226.5,601.6 234.5,600.2 242.5,600.1 250.5,594.6 258.5,594.7 266.5,584.1 274.5,583.2 282.5,583.2 290.5,583.0 298.5,583.1 306.5,583.3 314.5,572.9 322.5,559.7 330.5,555.3 338.5,540.4 346.5,527.0 354.5,532.8 362.5,528.4 370.5,511.8 378.5,504.0 386.5,506.1 394.5,520.6 402.5,525.9 410.5,536.7 418.5,540.9 426.5,541.7 434.5,538.6 442.5,535.9 450.5,526.8 458.5,519.2 466.5,505.0 474.5,496.8 482.5,491.3 490.5,486.5 498.5,483.8 506.5,479.5 514.5,482.6 522.5,485.7 530.5,484.7 538.5,486.4 546.5,496.8 554.5,505.3 562.5,514.2 570.5,521.5 578.5,535.8 586.5,545.1 594.5,554.8 602.5,563.1 610.5,574.1 618.5,573.9 626.5,571.4 634.5,570.3 642.5,567.4 650.5,565.1 658.5,564.7 666.5,563.0 674.5,559.2 682.5,558.6 690.5,557.2 698.5,557.5 706.5,565.8 714.5,581.4 722.5,602.2 730.5,621.2 738.5,634.0 746.5,649.9 754.5,673.5 762.5,689.3 770.5,697.3 778.5,705.8 786.5,713.6 794.5,722.3 802.5,730.5 810.5,734.0 818.5,748.0 826.5,768.8 834.5,784.6 842.5,795.8 850.5,798.8 858.5,803.6 866.5,804.8 874.5,805.5 882.5,805.4 890.5,805.7 898.5,814.9 906.5,827.5 914.5,831.3 922.5,834.7 930.5,831.2 938.5,826.2 946.5,820.5 954.5,821.4 962.5,818.9 970.5,815.9 978.5,817.8 986.5,816.1 994.5,812.7 1002.5,809.7 1010.5,810.6 1018.5,807.8 1026.5,810.0 1034.5,810.5 1042.5,828.0 1050.5,835.7 1058.5,824.6 1066.5,813.9 1074.5,807.5 1082.5,796.2 1090.5,786.3 1098.5,770.6 1106.5,756.5 1114.5,752.9 1122.5,743.4 1130.5,719.4 1138.5,703.9 1146.5,681.7 1154.5,660.0 1162.5,635.0 1170.5,634.6 1178.5,629.8 1186.5,627.0 1194.5,620.3 1202.5,634.0 1210.5,643.1 1218.5,635.5 1226.5,634.7 1234.5,630.1 1242.5,624.6 1250.5,618.2 1258.5,602.1 1266.5,580.2 1274.5,569.2 1282.5,562.3 1290.5,540.8 1298.5,523.3 1306.5,509.3 1314.5,496.1 1322.5,473.6 1330.5,478.8 1338.5,484.5 1346.5,506.4 1354.5,526.4 1362.5,537.4 1370.5,547.0 1378.5,548.6 1386.5,546.7 1394.5,542.4 1402.5,532.4 1410.5,519.3 1418.5,510.2 1426.5,502.6 1434.5,488.6 1442.5,469.8 1450.5,444.8 1458.5,418.5 1466.5,372.6 1474.5,308.8 1482.5,268.8 1490.5,254.7" fill="none" stroke="#5f9ea0" stroke-width="1"/>
<polyline points="0.0,590.3 2.5,590.8 10.5,594.4 18.5,598.2 26.5,596.7 34.5,591.7 42.5,583.0 50.5,574.3 58.5,567.7 66.5,560.0 74.5,553.0 82.5,547.5 90.5,545.0 98.5,544.0 106.5,543.0 114.5,536.0 122.5,529.0 130.5,519.0 138.5,507.0 146.5,501.0 154.5,499.8 162.5,501.7 170.5,499.6 178.5,498.5 186.5,500.2 194.5,501.4 202.5,505.3 210.5,509.9 218.5,510.8 226.5,510.4 234.5,511.2 242.5,511.4 250.5,507.6 258.5,506.6 266.5,501.6 274.5,503.0 282.5,503.0 290.5,504.1 298.5,503.6 306.5,504.8 314.5,499.6 322.5,493.2 330.5,489.5 338.5,483.9 346.5,478.6 354.5,475.0 362.5,471.4 370.5,467.2 378.5,464.7 386.5,463.1 394.5,458.1 402.5,452.6 410.5,444.6 418.5,437.4 426.5,429.9 434.5,422.5 442.5,416.7 450.5,410.4 458.5,404.1 466.5,398.6 474.5,395.4 482.5,393.1 490.5,391.5 498.5,390.7 506.5,389.2 514.5,390.6 522.5,391.5 530.5,391.2 538.5,391.6 546.5,394.6 554.5,400.0 562.5,405.4 570.5,413.9 578.5,423.9 586.5,433.8 594.5,443.9 602.5,453.8 610.5,463.7 618.5,472.7 626.5,477.6 634.5,481.9 642.5,486.6 650.5,488.6 658.5,491.5 666.5,496.4 674.5,499.1 682.5,501.4 690.5,502.5 698.5,504.7 706.5,508.6 714.5,515.2 722.5,522.9 730.5,530.0 738.5,534.5 746.5,540.2 754.5,547.4 762.5,553.5 770.5,557.0 778.5,562.2 786.5,570.1 794.5,578.2 802.5,586.8 810.5,597.1 818.5,608.5 826.5,620.5 834.5,635.0 842.5,648.2 850.5,662.6 858.5,676.0 866.5,685.4 874.5,691.7 882.5,695.5 890.5,699.5 898.5,708.0 906.5,716.4 914.5,720.0 922.5,725.0 930.5,730.0 938.5,735.0 946.5,738.6 954.5,738.3 962.5,739.6 970.5,742.6 978.5,740.7 986.5,737.7 994.5,733.1 1002.5,728.8 1010.5,721.8 1018.5,713.9 1026.5,707.0 1034.5,701.9 1042.5,692.5 1050.5,683.5 1058.5,672.0 1066.5,656.1 1074.5,643.5 1082.5,630.4 1090.5,619.0 1098.5,610.1 1106.5,603.1 1114.5,596.0 1122.5,585.4 1130.5,576.5 1138.5,568.5 1146.5,559.9 1154.5,551.8 1162.5,543.3 1170.5,531.6 1178.5,520.2 1186.5,508.6 1194.5,494.9 1202.5,484.3 1210.5,472.1 1218.5,461.2 1226.5,453.7 1234.5,446.8 1242.5,442.1 1250.5,437.9 1258.5,429.3 1266.5,418.5 1274.5,412.6 1282.5,408.9 1290.5,402.4 1298.5,396.9 1306.5,393.6 1314.5,390.9 1322.5,383.8 1330.5,377.8 1338.5,370.6 1346.5,359.7 1354.5,348.8 1362.5,341.3 1370.5,334.4 1378.5,326.4 1386.5,320.7 1394.5,313.5 1402.5,304.1 1410.5,292.6 1418.5,281.9 1426.5,272.9 1434.5,263.9 1442.5,253.8 1450.5,243.3 1458.5,233.4 1466.5,219.8 1474.5,206.3 1482.5,198.6 1490.5,193.8" fill="none" stroke="#2f4f4f" stroke-width="1" stroke-dasharray="4 2"/>
<text x="354.5" y="360" font-family="Liberation Sans, sans-serif" font-size="20.5" text-anchor="middle">3</text>
<text x="378" y="500" font-family="Liberation Sans, sans-serif" font-size="20.5" text-anchor="middle">4</text>
<text x="434.5" y="224.2" font-family="Liberation Sans, sans-serif" font-size="19" text-anchor="middle">(1)</text>
<text x="434.5" y="248" font-family="Liberation Sans, sans-serif" font-size="20.5" text-anchor="middle">5</text>
<text x="610.5" y="609" font-family="Liberation Sans, sans-serif" font-size="20.5" text-anchor="middle">A</text>
<text x="650.5" y="450.5" font-family="Liberation Sans, sans-serif" font-size="20.5" text-anchor="middle">B</text>
<text x="906" y="880.6" font-family="Liberation Sans, sans-serif" font-size="20.5" text-anchor="middle">C</text>
<text x="1210" y="230" font-family="Liberation Sans, sans-serif" font-size="20.5" text-anchor="middle">1</text>
<text x="1322.5" y="532" font-family="Liberation Sans, sans-serif" font-size="20.5" text-anchor="middle">2</text>
<text x="258" y="506" font-family="Liberation Serif, serif" font-size="17" text-anchor="middle">(<tspan font-weight="bold">a</tspan>)</text>
<text x="282" y="440" font-family="Liberation Serif, serif" font-size="17" text-anchor="middle">(<tspan font-weight="bold">b</tspan>)</text>
<text x="314" y="526" font-family="Liberation Serif, serif" font-size="17" text-anchor="middle">(<tspan font-weight="bold">c</tspan>)</text>
<text x="666" y="551" font-family="Liberation Serif, serif" font-size="17" text-anchor="middle">(<tspan font-weight="bold">a</tspan>)</text>
<text x="690" y="470" font-family="Liberation Serif, serif" font-size="17" text-anchor="middle">(<tspan font-weight="bold">b</tspan>)</text>
<text x="754" y="713" font-family="Liberation Serif, serif" font-size="17" text-anchor="middle">(<tspan font-weight="bold">c</tspan>)</text>
<text x="842" y="748" font-family="Liberation Serif, serif" font-size="17" text-anchor="middle">(<tspan font-weight="bold">b</tspan>)</text>
<text x="834" y="805" font-family="Liberation Serif, serif" font-size="17" text-anchor="middle">(<tspan font-weight="bold">a</tspan>)</text>
<text x="858" y="826" font-family="Liberation Serif, serif" font-size="17" text-anchor="middle">(<tspan font-weight="bold">c</tspan>)</text>
<text x="1106" y="615" font-family="Liberation Serif, serif" font-size="17" text-anchor="middle">(<tspan font-weight="bold">a</tspan>)</text>
<text x="1122" y="469" font-family="Liberation Serif, serif" font-size="17" text-anchor="middle">(<tspan font-weight="bold">b</tspan>)</text>
<text x="1162" y="576" font-family="Liberation Serif, serif" font-size="17" text-anchor="middle">(<tspan font-weight="bold">c</tspan>)</text>
<text x="1394" y="260" font-family="Liberation Serif, serif" font-size="17" text-anchor="middle">(<tspan font-weight="bold">a</tspan>)</text>
<text x="1434" y="144" font-family="Liberation Serif, serif" font-size="17" text-anchor="middle">(<tspan font-weight="bold">b</tspan>)</text>
<text x="1458" y="274" font-family="Liberation Serif, serif" font-size="17" text-anchor="middle">(<tspan font-weight="bold">c</tspan>)</text>
<circle cx="234" cy="428" r="9.6" fill="none" stroke="#333" stroke-width="1"/>
<text x="234" y="433.5" font-family="Liberation Serif, serif" font-size="16" font-weight="bold" text-anchor="middle">iii</text>
<circle cx="314" cy="541" r="9.6" fill="none" stroke="#333" stroke-width="1"/>
<text x="314" y="546.5" font-family="Liberation Serif, serif" font-size="16" font-weight="bold" text-anchor="middle">iv</text>
<circle cx="354" cy="376" r="9.6" fill="none" stroke="#333" stroke-width="1"/>
<text x="354" y="381.5" font-family="Liberation Serif, serif" font-size="16" font-weight="bold" text-anchor="middle">v</text>
<circle cx="482" cy="442" r="9.6" fill="none" stroke="#333" stroke-width="1"/>
<text x="482" y="447.5" font-family="Liberation Serif, serif" font-size="16" font-weight="bold" text-anchor="middle">i</text>
<circle cx="506" cy="357" r="9.6" fill="none" stroke="#333" stroke-width="1"/>
<text x="506" y="362.5" font-family="Liberation Serif, serif" font-size="16" font-weight="bold" text-anchor="middle">ii</text>
<circle cx="546" cy="502" r="9.6" fill="none" stroke="#333" stroke-width="1"/>
<text x="546" y="507.5" font-family="Liberation Serif, serif" font-size="16" font-weight="bold" text-anchor="middle">iii</text>
<circle cx="554" cy="431" r="9.6" fill="none" stroke="#333" stroke-width="1"/>
<text x="554" y="436.5" font-family="Liberation Serif, serif" font-size="16" font-weight="bold" text-anchor="middle">iv</text>
<circle cx="610" cy="579" r="9.6" fill="none" stroke="#333" stroke-width="1"/>
<text x="610" y="584.5" font-family="Liberation Serif, serif" font-size="16" font-weight="bold" text-anchor="middle">v</text>
<circle cx="794" cy="599" r="9.6" fill="none" stroke="#333" stroke-width="1"/>
<text x="794" y="604.5" font-family="Liberation Serif, serif" font-size="16" font-weight="bold" text-anchor="middle">ii</text>
<circle cx="754" cy="728" r="9.6" fill="none" stroke="#333" stroke-width="1"/>
<text x="754" y="733.5" font-family="Liberation Serif, serif" font-size="16" font-weight="bold" text-anchor="middle">i</text>
<circle cx="890" cy="678" r="9.6" fill="none" stroke="#333" stroke-width="1"/>
<text x="890" y="683.5" font-family="Liberation Serif, serif" font-size="16" font-weight="bold" text-anchor="middle">iv</text>
<circle cx="858" cy="842" r="9.6" fill="none" stroke="#333" stroke-width="1"/>
<text x="858" y="847.5" font-family="Liberation Serif, serif" font-size="16" font-weight="bold" text-anchor="middle">iii</text>
<circle cx="906" cy="851" r="9.6" fill="none" stroke="#333" stroke-width="1"/>
<text x="906" y="856.5" font-family="Liberation Serif, serif" font-size="16" font-weight="bold" text-anchor="middle">v</text>
<circle cx="954" cy="565" r="9.6" fill="none" stroke="#333" stroke-width="1"/>
<text x="954" y="570.5" font-family="Liberation Serif, serif" font-size="16" font-weight="bold" text-anchor="middle">i</text>
<circle cx="970" cy="750" r="9.6" fill="none" stroke="#333" stroke-width="1"/>
<text x="970" y="755.5" font-family="Liberation Serif, serif" font-size="16" font-weight="bold" text-anchor="middle">ii</text>
<circle cx="1074" cy="446" r="9.6" fill="none" stroke="#333" stroke-width="1"/>
<text x="1074" y="451.5" font-family="Liberation Serif, serif" font-size="16" font-weight="bold" text-anchor="middle">iii</text>
<circle cx="1162" cy="592" r="9.6" fill="none" stroke="#333" stroke-width="1"/>
<text x="1162" y="597.5" font-family="Liberation Serif, serif" font-size="16" font-weight="bold" text-anchor="middle">iv</text>
<circle cx="1210" cy="246" r="9.6" fill="none" stroke="#333" stroke-width="1"/>
<text x="1210" y="251.5" font-family="Liberation Serif, serif" font-size="16" font-weight="bold" text-anchor="middle">v</text>
<circle cx="1266.5" cy="323" r="9.6" fill="none" stroke="#333" stroke-width="1"/>
<text x="1266.5" y="328.5" font-family="Liberation Serif, serif" font-size="16" font-weight="bold" text-anchor="middle">b</text>
<circle cx="1250" cy="438" r="9.6" fill="none" stroke="#333" stroke-width="1"/>
<text x="1250" y="443.5" font-family="Liberation Serif, serif" font-size="16" font-weight="bold" text-anchor="middle">a</text>
<circle cx="1322" cy="502" r="9.6" fill="none" stroke="#333" stroke-width="1"/>
<text x="1322" y="507.5" font-family="Liberation Serif, serif" font-size="16" font-weight="bold" text-anchor="middle">c</text>
<circle cx="1354" cy="58.4" r="9.6" fill="none" stroke="#333" stroke-width="1"/>
<text x="1354" y="63.9" font-family="Liberation Serif, serif" font-size="16" font-weight="bold" text-anchor="middle">i</text>
<circle cx="1458" cy="290" r="9.6" fill="none" stroke="#333" stroke-width="1"/>
<text x="1458" y="295.5" font-family="Liberation Serif, serif" font-size="16" font-weight="bold" text-anchor="middle">ii</text>
<line x1="0" y1="706.5" x2="1854" y2="706.5" stroke="#fff" stroke-width="3"/>
<line x1="0" y1="120.5" x2="1854" y2="120.5" stroke="#ff0000" stroke-width="3"/>
<line x1="0" y1="258.5" x2="1854" y2="258.5" stroke="#ff0000" stroke-width="3"/>
<line x1="0" y1="367.5" x2="1854" y2="367.5" stroke="#ff0000" stroke-width="3"/>
<line x1="0" y1="460.5" x2="1854" y2="460.5" stroke="#ff0000" stroke-width="3"/>
<line x1="0" y1="576.5" x2="1854" y2="576.5" stroke="#ff0000" stroke-width="3"/>
<line x1="0" y1="850.5" x2="1854" y2="850.5" stroke="#ff0000" stroke-width="3"/>
<line x1="1322" y1="492" x2="1354.5" y2="69.5" stroke="#000" stroke-width="1"/>
<line x1="1487.5" y1="178" x2="1500" y2="133" stroke="#000" stroke-width="1.2"/>
<polygon points="1503.5,121 1496,133 1504,135" fill="#000"/>
<line x1="905.6" y1="517.1" x2="1520.8" y2="-0.4" stroke="#2d62ff" stroke-width="3"/>
<line x1="906.1" y1="840.3" x2="1856" y2="40.2" stroke="#2d62ff" stroke-width="3"/>
<g clip-path="url(#fibr)"><line x1="905.6" y1="517.1" x2="1520.8" y2="-0.4" stroke="#2a5ae4" stroke-width="3"/><line x1="906.1" y1="840.3" x2="1856" y2="40.2" stroke="#2a5ae4" stroke-width="3"/></g>
<rect x="1521.2" y="62.5" width="73.3" height="15" rx="3.5" fill="#fff" stroke="#cc4444" stroke-width="1"/>
<text x="1592.5" y="73.7" font-family="Liberation Sans, sans-serif" font-size="10.5" text-anchor="end" textLength="69.3" lengthAdjust="spacingAndGlyphs">0.0%(2.05574)</text>
<rect x="1515.0" y="161.5" width="79.5" height="15" rx="3.5" fill="#fff" stroke="#cc4444" stroke-width="1"/>
<text x="1592.5" y="172.7" font-family="Liberation Sans, sans-serif" font-size="10.5" text-anchor="end" textLength="75.5" lengthAdjust="spacingAndGlyphs">23.6%(2.02630)</text>
<rect x="1515.0" y="223.5" width="79.5" height="15" rx="3.5" fill="#fff" stroke="#cc4444" stroke-width="1"/>
<text x="1592.5" y="234.7" font-family="Liberation Sans, sans-serif" font-size="10.5" text-anchor="end" textLength="75.5" lengthAdjust="spacingAndGlyphs">38.2%(2.00809)</text>
<rect x="1515.0" y="273.5" width="79.5" height="15" rx="3.5" fill="#fff" stroke="#cc4444" stroke-width="1"/>
<text x="1592.5" y="284.7" font-family="Liberation Sans, sans-serif" font-size="10.5" text-anchor="end" textLength="75.5" lengthAdjust="spacingAndGlyphs">50.0%(1.99338)</text>
<rect x="1515.0" y="323.5" width="79.5" height="15" rx="3.5" fill="#fff" stroke="#cc4444" stroke-width="1"/>
<text x="1592.5" y="334.7" font-family="Liberation Sans, sans-serif" font-size="10.5" text-anchor="end" textLength="75.5" lengthAdjust="spacingAndGlyphs">61.8%(1.97866)</text>
<rect x="1515.0" y="393.5" width="79.5" height="15" rx="3.5" fill="#fff" stroke="#cc4444" stroke-width="1"/>
<text x="1592.5" y="404.7" font-family="Liberation Sans, sans-serif" font-size="10.5" text-anchor="end" textLength="75.5" lengthAdjust="spacingAndGlyphs">78.6%(1.95770)</text>
<rect x="1510.1" y="484.5" width="84.4" height="15" rx="3.5" fill="#fff" stroke="#cc4444" stroke-width="1"/>
<text x="1592.5" y="495.7" font-family="Liberation Sans, sans-serif" font-size="10.5" text-anchor="end" textLength="80.4" lengthAdjust="spacingAndGlyphs">100.0%(1.93101)</text>
</g>
<rect x="1731" y="1" width="120" height="118" fill="rgb(244,14,17)" fill-opacity="0.89"/>
<text x="1790.5" y="64.3" font-family="Liberation Serif, serif" font-weight="bold" font-size="35" fill="#fff" text-anchor="middle" textLength="84.8" lengthAdjust="spacingAndGlyphs">FxPro</text>
<text x="1791" y="79.6" font-family="Liberation Sans, sans-serif" font-size="11" fill="#fff" text-anchor="middle" textLength="83.8" lengthAdjust="spacingAndGlyphs">Trade Like a Pro</text>
<text x="7.8" y="16.9" font-family="Liberation Sans, sans-serif" font-weight="bold" font-size="13" textLength="98" lengthAdjust="spacingAndGlyphs">GBPNZD - 1 day</text>
<text x="9.7" y="33.9" font-family="Liberation Sans, sans-serif" font-size="11" fill="#5f9ea0" textLength="84.5" lengthAdjust="spacingAndGlyphs">BB(20,20,2.0,2.0)</text>
<g shape-rendering="crispEdges">
<line x1="1854.5" y1="0" x2="1854.5" y2="877" stroke="#a8a898" stroke-width="1"/>
<line x1="0" y1="876.5" x2="1855" y2="876.5" stroke="#a8a898" stroke-width="1"/>
<line x1="1860.5" y1="0" x2="1860.5" y2="882" stroke="#000" stroke-width="1"/>
<line x1="0" y1="881.5" x2="1861" y2="881.5" stroke="#000" stroke-width="1"/>
<rect x="0.5" y="0.5" width="1911" height="897" fill="none" stroke="#000" stroke-width="1"/>
<line x1="1857" y1="874.5" x2="1860" y2="874.5" stroke="#000" stroke-width="1"/>
<line x1="1854" y1="867.5" x2="1860" y2="867.5" stroke="#000" stroke-width="1"/>
<line x1="1857" y1="860.5" x2="1860" y2="860.5" stroke="#000" stroke-width="1"/>
<line x1="1857" y1="853.5" x2="1860" y2="853.5" stroke="#000" stroke-width="1"/>
<line x1="1857" y1="847.5" x2="1860" y2="847.5" stroke="#000" stroke-width="1"/>
<line x1="1857" y1="840.5" x2="1860" y2="840.5" stroke="#000" stroke-width="1"/>
<line x1="1857" y1="833.5" x2="1860" y2="833.5" stroke="#000" stroke-width="1"/>
<line x1="1857" y1="826.5" x2="1860" y2="826.5" stroke="#000" stroke-width="1"/>
<line x1="1857" y1="820.5" x2="1860" y2="820.5" stroke="#000" stroke-width="1"/>
<line x1="1857" y1="813.5" x2="1860" y2="813.5" stroke="#000" stroke-width="1"/>
<line x1="1857" y1="806.5" x2="1860" y2="806.5" stroke="#000" stroke-width="1"/>
<line x1="1854" y1="799.5" x2="1860" y2="799.5" stroke="#000" stroke-width="1"/>
<line x1="1857" y1="793.5" x2="1860" y2="793.5" stroke="#000" stroke-width="1"/>
<line x1="1857" y1="786.5" x2="1860" y2="786.5" stroke="#000" stroke-width="1"/>
<line x1="1857" y1="779.5" x2="1860" y2="779.5" stroke="#000" stroke-width="1"/>
<line x1="1857" y1="772.5" x2="1860" y2="772.5" stroke="#000" stroke-width="1"/>
<line x1="1857" y1="765.5" x2="1860" y2="765.5" stroke="#000" stroke-width="1"/>
<line x1="1857" y1="759.5" x2="1860" y2="759.5" stroke="#000" stroke-width="1"/>
<line x1="1857" y1="752.5" x2="1860" y2="752.5" stroke="#000" stroke-width="1"/>
<line x1="1857" y1="745.5" x2="1860" y2="745.5" stroke="#000" stroke-width="1"/>
<line x1="1857" y1="738.5" x2="1860" y2="738.5" stroke="#000" stroke-width="1"/>
<line x1="1854" y1="732.5" x2="1860" y2="732.5" stroke="#000" stroke-width="1"/>
<line x1="1857" y1="725.5" x2="1860" y2="725.5" stroke="#000" stroke-width="1"/>
<line x1="1857" y1="718.5" x2="1860" y2="718.5" stroke="#000" stroke-width="1"/>
<line x1="1857" y1="711.5" x2="1860" y2="711.5" stroke="#000" stroke-width="1"/>
<line x1="1857" y1="705.5" x2="1860" y2="705.5" stroke="#000" stroke-width="1"/>
<line x1="1857" y1="698.5" x2="1860" y2="698.5" stroke="#000" stroke-width="1"/>
<line x1="1857" y1="691.5" x2="1860" y2="691.5" stroke="#000" stroke-width="1"/>
<line x1="1857" y1="684.5" x2="1860" y2="684.5" stroke="#000" stroke-width="1"/>
<line x1="1857" y1="678.5" x2="1860" y2="678.5" stroke="#000" stroke-width="1"/>
<line x1="1857" y1="671.5" x2="1860" y2="671.5" stroke="#000" stroke-width="1"/>
<line x1="1854" y1="664.5" x2="1860" y2="664.5" stroke="#000" stroke-width="1"/>
<line x1="1857" y1="657.5" x2="1860" y2="657.5" stroke="#000" stroke-width="1"/>
<line x1="1857" y1="650.5" x2="1860" y2="650.5" stroke="#000" stroke-width="1"/>
<line x1="1857" y1="644.5" x2="1860" y2="644.5" stroke="#000" stroke-width="1"/>
<line x1="1857" y1="637.5" x2="1860" y2="637.5" stroke="#000" stroke-width="1"/>
<line x1="1857" y1="630.5" x2="1860" y2="630.5" stroke="#000" stroke-width="1"/>
<line x1="1857" y1="623.5" x2="1860" y2="623.5" stroke="#000" stroke-width="1"/>
<line x1="1857" y1="617.5" x2="1860" y2="617.5" stroke="#000" stroke-width="1"/>
<line x1="1857" y1="610.5" x2="1860" y2="610.5" stroke="#000" stroke-width="1"/>
<line x1="1857" y1="603.5" x2="1860" y2="603.5" stroke="#000" stroke-width="1"/>
<line x1="1854" y1="596.5" x2="1860" y2="596.5" stroke="#000" stroke-width="1"/>
<line x1="1857" y1="590.5" x2="1860" y2="590.5" stroke="#000" stroke-width="1"/>
<line x1="1857" y1="583.5" x2="1860" y2="583.5" stroke="#000" stroke-width="1"/>
<line x1="1857" y1="576.5" x2="1860" y2="576.5" stroke="#000" stroke-width="1"/>
<line x1="1857" y1="569.5" x2="1860" y2="569.5" stroke="#000" stroke-width="1"/>
<line x1="1857" y1="562.5" x2="1860" y2="562.5" stroke="#000" stroke-width="1"/>
<line x1="1857" y1="556.5" x2="1860" y2="556.5" stroke="#000" stroke-width="1"/>
<line x1="1857" y1="549.5" x2="1860" y2="549.5" stroke="#000" stroke-width="1"/>
<line x1="1857" y1="542.5" x2="1860" y2="542.5" stroke="#000" stroke-width="1"/>
<line x1="1857" y1="535.5" x2="1860" y2="535.5" stroke="#000" stroke-width="1"/>
<line x1="1854" y1="529.5" x2="1860" y2="529.5" stroke="#000" stroke-width="1"/>
<line x1="1857" y1="522.5" x2="1860" y2="522.5" stroke="#000" stroke-width="1"/>
<line x1="1857" y1="515.5" x2="1860" y2="515.5" stroke="#000" stroke-width="1"/>
<line x1="1857" y1="508.5" x2="1860" y2="508.5" stroke="#000" stroke-width="1"/>
<line x1="1857" y1="502.5" x2="1860" y2="502.5" stroke="#000" stroke-width="1"/>
<line x1="1857" y1="495.5" x2="1860" y2="495.5" stroke="#000" stroke-width="1"/>
<line x1="1857" y1="488.5" x2="1860" y2="488.5" stroke="#000" stroke-width="1"/>
<line x1="1857" y1="481.5" x2="1860" y2="481.5" stroke="#000" stroke-width="1"/>
<line x1="1857" y1="475.5" x2="1860" y2="475.5" stroke="#000" stroke-width="1"/>
<line x1="1857" y1="468.5" x2="1860" y2="468.5" stroke="#000" stroke-width="1"/>
<line x1="1854" y1="461.5" x2="1860" y2="461.5" stroke="#000" stroke-width="1"/>
<line x1="1857" y1="454.5" x2="1860" y2="454.5" stroke="#000" stroke-width="1"/>
<line x1="1857" y1="447.5" x2="1860" y2="447.5" stroke="#000" stroke-width="1"/>
<line x1="1857" y1="441.5" x2="1860" y2="441.5" stroke="#000" stroke-width="1"/>
<line x1="1857" y1="434.5" x2="1860" y2="434.5" stroke="#000" stroke-width="1"/>
<line x1="1857" y1="427.5" x2="1860" y2="427.5" stroke="#000" stroke-width="1"/>
<line x1="1857" y1="420.5" x2="1860" y2="420.5" stroke="#000" stroke-width="1"/>
<line x1="1857" y1="414.5" x2="1860" y2="414.5" stroke="#000" stroke-width="1"/>
<line x1="1857" y1="407.5" x2="1860" y2="407.5" stroke="#000" stroke-width="1"/>
<line x1="1857" y1="400.5" x2="1860" y2="400.5" stroke="#000" stroke-width="1"/>
<line x1="1854" y1="393.5" x2="1860" y2="393.5" stroke="#000" stroke-width="1"/>
<line x1="1857" y1="387.5" x2="1860" y2="387.5" stroke="#000" stroke-width="1"/>
<line x1="1857" y1="380.5" x2="1860" y2="380.5" stroke="#000" stroke-width="1"/>
<line x1="1857" y1="373.5" x2="1860" y2="373.5" stroke="#000" stroke-width="1"/>
<line x1="1857" y1="366.5" x2="1860" y2="366.5" stroke="#000" stroke-width="1"/>
<line x1="1857" y1="359.5" x2="1860" y2="359.5" stroke="#000" stroke-width="1"/>
<line x1="1857" y1="353.5" x2="1860" y2="353.5" stroke="#000" stroke-width="1"/>
<line x1="1857" y1="346.5" x2="1860" y2="346.5" stroke="#000" stroke-width="1"/>
<line x1="1857" y1="339.5" x2="1860" y2="339.5" stroke="#000" stroke-width="1"/>
<line x1="1857" y1="332.5" x2="1860" y2="332.5" stroke="#000" stroke-width="1"/>
<line x1="1854" y1="326.5" x2="1860" y2="326.5" stroke="#000" stroke-width="1"/>
<line x1="1857" y1="319.5" x2="1860" y2="319.5" stroke="#000" stroke-width="1"/>
<line x1="1857" y1="312.5" x2="1860" y2="312.5" stroke="#000" stroke-width="1"/>
<line x1="1857" y1="305.5" x2="1860" y2="305.5" stroke="#000" stroke-width="1"/>
<line x1="1857" y1="299.5" x2="1860" y2="299.5" stroke="#000" stroke-width="1"/>
<line x1="1857" y1="292.5" x2="1860" y2="292.5" stroke="#000" stroke-width="1"/>
<line x1="1857" y1="285.5" x2="1860" y2="285.5" stroke="#000" stroke-width="1"/>
<line x1="1857" y1="278.5" x2="1860" y2="278.5" stroke="#000" stroke-width="1"/>
<line x1="1857" y1="272.5" x2="1860" y2="272.5" stroke="#000" stroke-width="1"/>
<line x1="1857" y1="265.5" x2="1860" y2="265.5" stroke="#000" stroke-width="1"/>
<line x1="1854" y1="258.5" x2="1860" y2="258.5" stroke="#000" stroke-width="1"/>
<line x1="1857" y1="251.5" x2="1860" y2="251.5" stroke="#000" stroke-width="1"/>
<line x1="1857" y1="244.5" x2="1860" y2="244.5" stroke="#000" stroke-width="1"/>
<line x1="1857" y1="238.5" x2="1860" y2="238.5" stroke="#000" stroke-width="1"/>
<line x1="1857" y1="231.5" x2="1860" y2="231.5" stroke="#000" stroke-width="1"/>
<line x1="1857" y1="224.5" x2="1860" y2="224.5" stroke="#000" stroke-width="1"/>
<line x1="1857" y1="217.5" x2="1860" y2="217.5" stroke="#000" stroke-width="1"/>
<line x1="1857" y1="211.5" x2="1860" y2="211.5" stroke="#000" stroke-width="1"/>
<line x1="1857" y1="204.5" x2="1860" y2="204.5" stroke="#000" stroke-width="1"/>
<line x1="1857" y1="197.5" x2="1860" y2="197.5" stroke="#000" stroke-width="1"/>
<line x1="1854" y1="190.5" x2="1860" y2="190.5" stroke="#000" stroke-width="1"/>
<line x1="1857" y1="184.5" x2="1860" y2="184.5" stroke="#000" stroke-width="1"/>
<line x1="1857" y1="177.5" x2="1860" y2="177.5" stroke="#000" stroke-width="1"/>
<line x1="1857" y1="170.5" x2="1860" y2="170.5" stroke="#000" stroke-width="1"/>
<line x1="1857" y1="163.5" x2="1860" y2="163.5" stroke="#000" stroke-width="1"/>
<line x1="1857" y1="157.5" x2="1860" y2="157.5" stroke="#000" stroke-width="1"/>
<line x1="1857" y1="150.5" x2="1860" y2="150.5" stroke="#000" stroke-width="1"/>
<line x1="1857" y1="143.5" x2="1860" y2="143.5" stroke="#000" stroke-width="1"/>
<line x1="1857" y1="136.5" x2="1860" y2="136.5" stroke="#000" stroke-width="1"/>
<line x1="1857" y1="129.5" x2="1860" y2="129.5" stroke="#000" stroke-width="1"/>
<line x1="1854" y1="123.5" x2="1860" y2="123.5" stroke="#000" stroke-width="1"/>
<line x1="1857" y1="116.5" x2="1860" y2="116.5" stroke="#000" stroke-width="1"/>
<line x1="1857" y1="109.5" x2="1860" y2="109.5" stroke="#000" stroke-width="1"/>
<line x1="1857" y1="102.5" x2="1860" y2="102.5" stroke="#000" stroke-width="1"/>
<line x1="1857" y1="96.5" x2="1860" y2="96.5" stroke="#000" stroke-width="1"/>
<line x1="1857" y1="89.5" x2="1860" y2="89.5" stroke="#000" stroke-width="1"/>
<line x1="1857" y1="82.5" x2="1860" y2="82.5" stroke="#000" stroke-width="1"/>
<line x1="1857" y1="75.5" x2="1860" y2="75.5" stroke="#000" stroke-width="1"/>
<line x1="1857" y1="69.5" x2="1860" y2="69.5" stroke="#000" stroke-width="1"/>
<line x1="1857" y1="62.5" x2="1860" y2="62.5" stroke="#000" stroke-width="1"/>
<line x1="1854" y1="55.5" x2="1860" y2="55.5" stroke="#000" stroke-width="1"/>
<line x1="1857" y1="48.5" x2="1860" y2="48.5" stroke="#000" stroke-width="1"/>
<line x1="1857" y1="41.5" x2="1860" y2="41.5" stroke="#000" stroke-width="1"/>
<line x1="1857" y1="35.5" x2="1860" y2="35.5" stroke="#000" stroke-width="1"/>
<line x1="1857" y1="28.5" x2="1860" y2="28.5" stroke="#000" stroke-width="1"/>
<line x1="50.5" y1="877" x2="50.5" y2="881" stroke="#000" stroke-width="1"/>
<line x1="114.5" y1="877" x2="114.5" y2="881" stroke="#000" stroke-width="1"/>
<line x1="218.5" y1="877" x2="218.5" y2="881" stroke="#000" stroke-width="1"/>
<line x1="282.5" y1="877" x2="282.5" y2="881" stroke="#000" stroke-width="1"/>
<line x1="394.5" y1="877" x2="394.5" y2="881" stroke="#000" stroke-width="1"/>
<line x1="458.5" y1="877" x2="458.5" y2="881" stroke="#000" stroke-width="1"/>
<line x1="578.5" y1="877" x2="578.5" y2="881" stroke="#000" stroke-width="1"/>
<line x1="642.5" y1="877" x2="642.5" y2="881" stroke="#000" stroke-width="1"/>
<line x1="738.5" y1="877" x2="738.5" y2="881" stroke="#000" stroke-width="1"/>
<line x1="802.5" y1="877" x2="802.5" y2="881" stroke="#000" stroke-width="1"/>
<line x1="922.5" y1="877" x2="922.5" y2="881" stroke="#000" stroke-width="1"/>
<line x1="986.5" y1="877" x2="986.5" y2="881" stroke="#000" stroke-width="1"/>
<line x1="1098.5" y1="877" x2="1098.5" y2="881" stroke="#000" stroke-width="1"/>
<line x1="1162.5" y1="877" x2="1162.5" y2="881" stroke="#000" stroke-width="1"/>
<line x1="1266.5" y1="877" x2="1266.5" y2="881" stroke="#000" stroke-width="1"/>
<line x1="1338.5" y1="877" x2="1338.5" y2="881" stroke="#000" stroke-width="1"/>
<line x1="1450.5" y1="877" x2="1450.5" y2="881" stroke="#000" stroke-width="1"/>
<line x1="1514.5" y1="877" x2="1514.5" y2="881" stroke="#000" stroke-width="1"/>
<line x1="1618.5" y1="877" x2="1618.5" y2="881" stroke="#000" stroke-width="1"/>
<line x1="1682.5" y1="877" x2="1682.5" y2="881" stroke="#000" stroke-width="1"/>
<line x1="1786.5" y1="877" x2="1786.5" y2="881" stroke="#000" stroke-width="1"/>
<line x1="1850.5" y1="877" x2="1850.5" y2="881" stroke="#000" stroke-width="1"/>
</g>
<text x="1864" y="872.2" font-family="Liberation Sans, sans-serif" font-size="12">1.82000</text>
<text x="1864" y="804.2" font-family="Liberation Sans, sans-serif" font-size="12">1.84000</text>
<text x="1864" y="737.2" font-family="Liberation Sans, sans-serif" font-size="12">1.86000</text>
<text x="1864" y="669.2" font-family="Liberation Sans, sans-serif" font-size="12">1.88000</text>
<text x="1864" y="601.2" font-family="Liberation Sans, sans-serif" font-size="12">1.90000</text>
<text x="1864" y="534.2" font-family="Liberation Sans, sans-serif" font-size="12">1.92000</text>
<text x="1864" y="466.2" font-family="Liberation Sans, sans-serif" font-size="12">1.94000</text>
<text x="1864" y="398.2" font-family="Liberation Sans, sans-serif" font-size="12">1.96000</text>
<text x="1864" y="331.2" font-family="Liberation Sans, sans-serif" font-size="12">1.98000</text>
<text x="1864" y="263.2" font-family="Liberation Sans, sans-serif" font-size="12">2.00000</text>
<text x="1864" y="195.2" font-family="Liberation Sans, sans-serif" font-size="12">2.02000</text>
<text x="1864" y="128.2" font-family="Liberation Sans, sans-serif" font-size="12">2.04000</text>
<text x="1864" y="60.2" font-family="Liberation Sans, sans-serif" font-size="12">2.06000</text>
<text x="50.5" y="894.2" font-family="Liberation Sans, sans-serif" font-size="12" text-anchor="middle">Mar-2019</text>
<text x="114.5" y="894.2" font-family="Liberation Sans, sans-serif" font-size="12" text-anchor="middle">Mar-13</text>
<text x="218.5" y="894.2" font-family="Liberation Sans, sans-serif" font-size="12" text-anchor="middle">Apr-2019</text>
<text x="282.5" y="894.2" font-family="Liberation Sans, sans-serif" font-size="12" text-anchor="middle">Apr-11</text>
<text x="394.5" y="894.2" font-family="Liberation Sans, sans-serif" font-size="12" text-anchor="middle">May-2019</text>
<text x="458.5" y="894.2" font-family="Liberation Sans, sans-serif" font-size="12" text-anchor="middle">May-12</text>
<text x="578.5" y="894.2" font-family="Liberation Sans, sans-serif" font-size="12" text-anchor="middle">Jun-2019</text>
<text x="642.5" y="894.2" font-family="Liberation Sans, sans-serif" font-size="12" text-anchor="middle">Jun-13</text>
<text x="738.5" y="894.2" font-family="Liberation Sans, sans-serif" font-size="12" text-anchor="middle">Jul-2019</text>
<text x="802.5" y="894.2" font-family="Liberation Sans, sans-serif" font-size="12" text-anchor="middle">Jul-11</text>
<text x="922.5" y="894.2" font-family="Liberation Sans, sans-serif" font-size="12" text-anchor="middle">Aug-2019</text>
<text x="986.5" y="894.2" font-family="Liberation Sans, sans-serif" font-size="12" text-anchor="middle">Aug-13</text>
<text x="1098.5" y="894.2" font-family="Liberation Sans, sans-serif" font-size="12" text-anchor="middle">Sep-2019</text>
<text x="1162.5" y="894.2" font-family="Liberation Sans, sans-serif" font-size="12" text-anchor="middle">Sep-12</text>
<text x="1266.5" y="894.2" font-family="Liberation Sans, sans-serif" font-size="12" text-anchor="middle">Oct-2019</text>
<text x="1338.5" y="894.2" font-family="Liberation Sans, sans-serif" font-size="12" text-anchor="middle">Oct-13</text>
<text x="1450.5" y="894.2" font-family="Liberation Sans, sans-serif" font-size="12" text-anchor="middle">Nov-2019</text>
<text x="1514.5" y="894.2" font-family="Liberation Sans, sans-serif" font-size="12" text-anchor="middle">Nov-13</text>
<text x="1618.5" y="894.2" font-family="Liberation Sans, sans-serif" font-size="12" text-anchor="middle">Dec-2019</text>
<text x="1682.5" y="894.2" font-family="Liberation Sans, sans-serif" font-size="12" text-anchor="middle">Dec-12</text>
<text x="1786.5" y="894.2" font-family="Liberation Sans, sans-serif" font-size="12" text-anchor="middle">Jan-2020</text>
<defs><linearGradient id="pk" x1="0" y1="0" x2="0" y2="1"><stop offset="0" stop-color="#f9d0d0"/><stop offset="1" stop-color="#f0a8a8"/></linearGradient></defs>
<path d="M1855,179.5 L1861,172.5 L1910,172.5 L1910,186.5 L1861,186.5 Z" fill="#fff" stroke="#555" stroke-width="1"/><text x="1864" y="184.3" font-family="Liberation Sans, sans-serif" font-size="12">2.02335</text>
<line x1="1861" y1="172.5" x2="1910" y2="172.5" stroke="#333" stroke-width="2"/>
<path d="M1855,232.5 L1861,225.5 L1910,225.5 L1910,239.5 L1861,239.5 Z" fill="url(#pk)" stroke="#777" stroke-width="1"/><text x="1864" y="237.3" font-family="Liberation Sans, sans-serif" font-size="12">2.00764</text>
</svg></body></html>
